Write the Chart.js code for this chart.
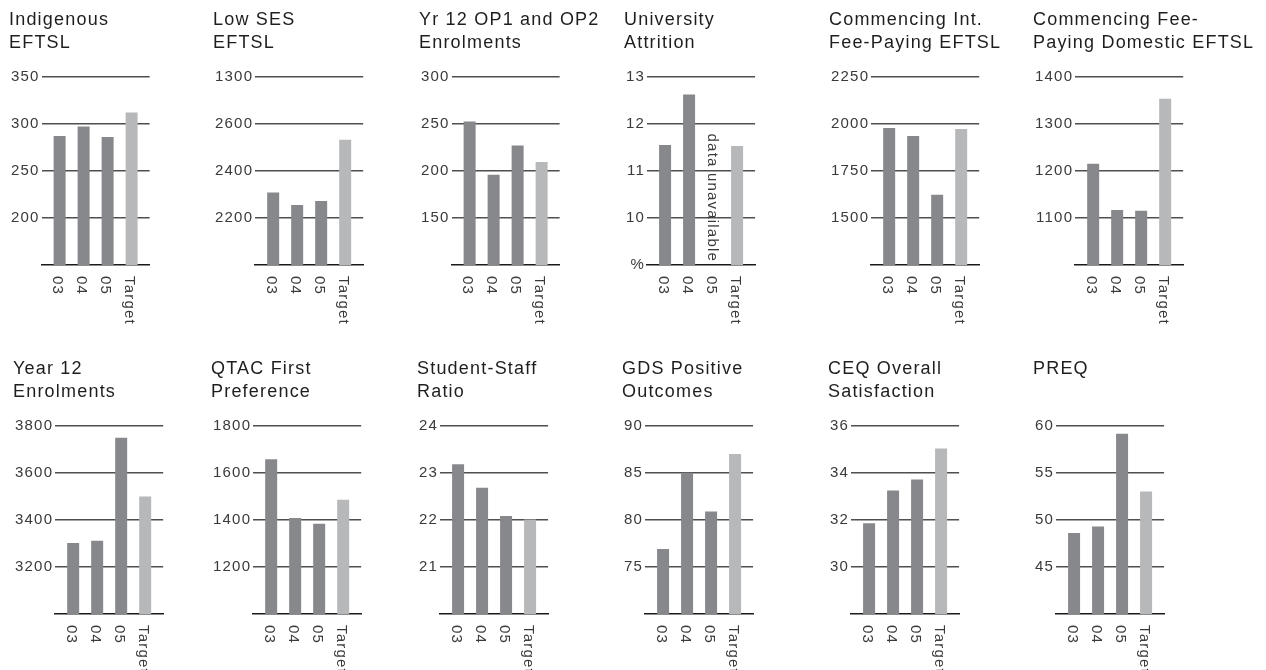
<!DOCTYPE html>
<html>
<head>
<meta charset="utf-8">
<script src="https://cdn.jsdelivr.net/npm/chart.js@4.4.1/dist/chart.umd.min.js"></script>
<style>
  html, body { margin: 0; padding: 0; background: #fff; overflow: hidden; }
  body { width: 1266px; height: 670px; position: relative; }
  .panel { position: absolute; }
</style>
</head>
<body>
<script>
const periods = ["03", "04", "05", "Target"];

// bar values
const indigenousEftsl = [287, 297, 286, 312];
const lowSesEftsl = [2308, 2255, 2272, 2532];
const yr12Op1Op2 = [252.5, 196, 227, 209.5];
const universityAttrition = [11.55, 12.62, null, 11.53];
const commIntFeeEftsl = [1977, 1935, 1623, 1972];
const commDomFeeEftsl = [1215, 1117, 1115, 1353];
const year12Enrolments = [3302, 3311, 3749, 3499];
const qtacFirstPref = [1658, 1408, 1383, 1485];
const studentStaffRatio = [23.18, 22.68, 22.08, 22.01];
const gdsPositive = [76.9, 85.0, 80.9, 87.0];
const ceqOverall = [31.86, 33.25, 33.72, 35.03];
const preqValues = [48.6, 49.3, 59.15, 53.0];

const attritionNotes = ["", "", "data unavailable", ""];

// y axis [bottom, top] and labels from the top line down
const indigenousAxis = [150, 350];
const indigenousTicks = ["350", "300", "250", "200", ""];
const lowSesAxis = [2000, 2800];
const lowSesTicks = ["1300", "2600", "2400", "2200", ""];
const yr12OpAxis = [100, 300];
const yr12OpTicks = ["300", "250", "200", "150", ""];
const attritionAxis = [9, 13];
const attritionTicks = ["13", "12", "11", "10", "%"];
const intFeeAxis = [1250, 2250];
const intFeeTicks = ["2250", "2000", "1750", "1500", ""];
const domFeeAxis = [1000, 1400];
const domFeeTicks = ["1400", "1300", "1200", "1100", ""];
const year12Axis = [3000, 3800];
const year12Ticks = ["3800", "3600", "3400", "3200", ""];
const qtacAxis = [1000, 1800];
const qtacTicks = ["1800", "1600", "1400", "1200", ""];
const ssrAxis = [20, 24];
const ssrTicks = ["24", "23", "22", "21", ""];
const gdsAxis = [70, 90];
const gdsTicks = ["90", "85", "80", "75", ""];
const ceqAxis = [28, 36];
const ceqTicks = ["36", "34", "32", "30", ""];
const preqAxis = [40, 60];
const preqTicks = ["60", "55", "50", "45", ""];

const panels = [
    { title: ["Indigenous", "EFTSL"], values: indigenousEftsl, axis: indigenousAxis, ticks: indigenousTicks },
    { title: ["Low SES", "EFTSL"], values: lowSesEftsl, axis: lowSesAxis, ticks: lowSesTicks },
    { title: ["Yr 12 OP1 and OP2", "Enrolments"], values: yr12Op1Op2, axis: yr12OpAxis, ticks: yr12OpTicks },
    { title: ["University", "Attrition"], values: universityAttrition, axis: attritionAxis, ticks: attritionTicks, notes: attritionNotes },
    { title: ["Commencing Int.", "Fee-Paying EFTSL"], values: commIntFeeEftsl, axis: intFeeAxis, ticks: intFeeTicks },
    { title: ["Commencing Fee-", "Paying Domestic EFTSL"], values: commDomFeeEftsl, axis: domFeeAxis, ticks: domFeeTicks },
    { title: ["Year 12", "Enrolments"], values: year12Enrolments, axis: year12Axis, ticks: year12Ticks },
    { title: ["QTAC First", "Preference"], values: qtacFirstPref, axis: qtacAxis, ticks: qtacTicks },
    { title: ["Student-Staff", "Ratio"], values: studentStaffRatio, axis: ssrAxis, ticks: ssrTicks },
    { title: ["GDS Positive", "Outcomes"], values: gdsPositive, axis: gdsAxis, ticks: gdsTicks },
    { title: ["CEQ Overall", "Satisfaction"], values: ceqOverall, axis: ceqAxis, ticks: ceqTicks },
    { title: ["PREQ", ""], values: preqValues, axis: preqAxis, ticks: preqTicks }
];

const FONT = '"Liberation Sans", Arial, Helvetica, sans-serif';
const SPACING = "1.2px";
const colLeft = [[11, 215, 421, 626, 831, 1035], [15, 213, 419, 624, 830, 1035]];
const rowTop = [0, 349];
const CANVAS_W = 222;
const PLOT_W = 108;
const TICK_PAD = 2;

Chart.defaults.font.family = FONT;

// canvas text is a bit loose in the original
const spacing = {
    id: "spacing",
    beforeLayout(chart) { chart.ctx.letterSpacing = SPACING; },
    beforeDraw(chart) { chart.ctx.letterSpacing = SPACING; }
};

// x labels read top to bottom, so they are drawn here
function periodLabels(p) {
    return {
        id: "periodLabels",
        afterDraw(chart) {
            const { ctx, chartArea, scales } = chart;
            ctx.save();
            ctx.letterSpacing = SPACING;
            ctx.font = "15px " + FONT;
            ctx.fillStyle = "#3a3a3a";
            ctx.textBaseline = "middle";
            periods.forEach((label, i) => {
                const x = scales.x.getPixelForValue(i) - 2;
                ctx.save();
                ctx.translate(x, chartArea.bottom + 11);
                ctx.rotate(Math.PI / 2);
                ctx.textAlign = "left";
                ctx.fillText(label, 0, 0);
                ctx.restore();
                if (p.notes && p.notes[i]) {
                    ctx.save();
                    ctx.translate(x + 1, chartArea.bottom - 3);
                    ctx.rotate(Math.PI / 2);
                    ctx.textAlign = "right";
                    ctx.fillText(p.notes[i], 0, 0);
                    ctx.restore();
                }
            });
            ctx.restore();
        }
    };
}

const meas = document.createElement("canvas").getContext("2d");
meas.font = "15px " + FONT;
meas.letterSpacing = SPACING;

panels.forEach((p, n) => {
    const row = Math.floor(n / 6);
    const col = n % 6;
    const labelW = Math.max(...p.ticks.map(t => meas.measureText(t).width));
    const rightW = CANVAS_W - (labelW + TICK_PAD * 2) - PLOT_W;

    const box = document.createElement("div");
    box.className = "panel";
    box.style.left = (colLeft[row][col] - TICK_PAD) + "px";
    box.style.top = rowTop[row] + "px";
    const canvas = document.createElement("canvas");
    canvas.width = CANVAS_W;
    canvas.height = 335;
    box.appendChild(canvas);
    document.body.appendChild(box);

    new Chart(canvas, {
        type: "bar",
        data: {
            datasets: [{
                data: p.values.map((v, i) => ({ x: i, y: v })),
                backgroundColor: periods.map(c => c === "Target" ? "#b6b8ba" : "#86888b"),
                barPercentage: 0.5,
                categoryPercentage: 1
            }]
        },
        options: {
            responsive: false,
            animation: false,
            events: [],
            layout: { padding: 0 },
            plugins: {
                legend: { display: false },
                tooltip: { enabled: false },
                title: {
                    display: true,
                    text: p.title,
                    align: "start",
                    color: "#1e1e1e",
                    font: { family: FONT, size: 18, weight: "normal", lineHeight: 1.27 },
                    padding: { top: 9, bottom: 22 }
                }
            },
            scales: {
                x: {
                    type: "linear",
                    min: -0.75,
                    max: 3.75,
                    offset: false,
                    grid: { display: false },
                    ticks: { display: false },
                    border: { color: "#1a1a1a", width: 1.6 },
                    afterFit: s => { s.height = 70; }
                },
                y: {
                    min: p.axis[0],
                    max: p.axis[1],
                    ticks: {
                        stepSize: (p.axis[1] - p.axis[0]) / 4,
                        padding: TICK_PAD,
                        color: "#3a3a3a",
                        font: { family: FONT, size: 15 },
                        callback: (v, i, arr) => p.ticks[arr.length - 1 - i]
                    },
                    grid: {
                        drawTicks: false,
                        color: c => c.index === 0 ? "rgba(0,0,0,0)" : "#4f4f4f",
                        lineWidth: 1.6
                    },
                    border: { display: false }
                },
                // empty space on the right so the plot keeps its width
                pad: {
                    position: "right",
                    ticks: { display: false },
                    grid: { display: false },
                    border: { display: false },
                    afterFit: s => { s.width = rightW; }
                }
            }
        },
        plugins: [spacing, periodLabels(p)]
    });
});
</script>
</body>
</html>
